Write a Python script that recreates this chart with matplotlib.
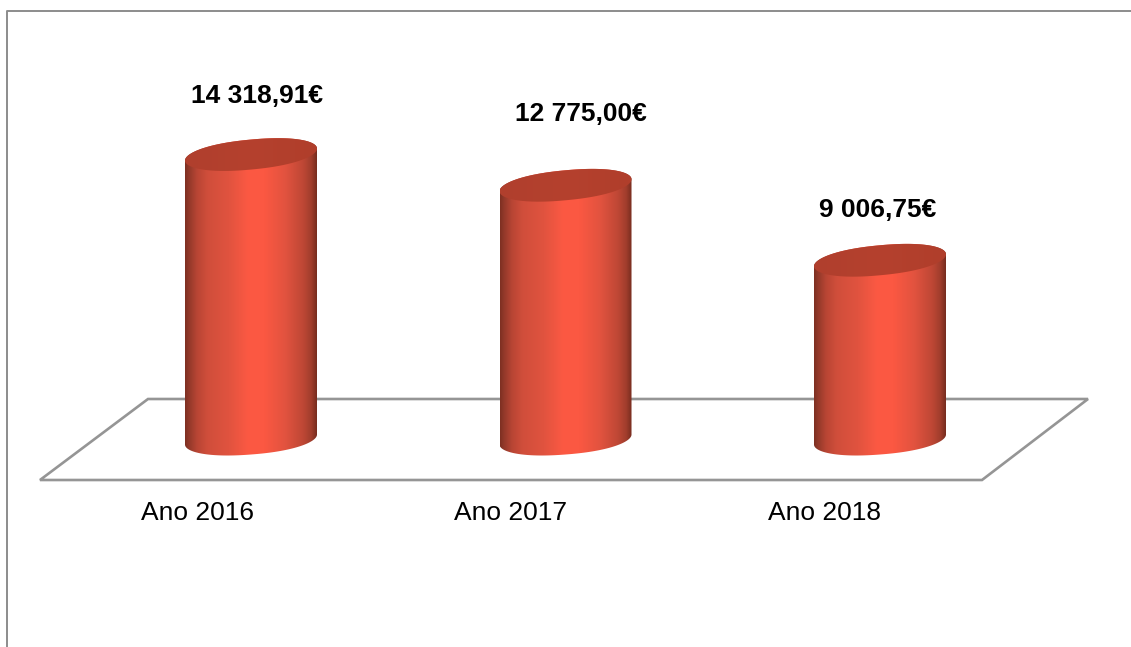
import numpy as np
import matplotlib
matplotlib.use("Agg")
import matplotlib.pyplot as plt
from matplotlib.path import Path
from matplotlib.patches import Polygon
from matplotlib.lines import Line2D
from matplotlib.transforms import IdentityTransform
from matplotlib.colors import LinearSegmentedColormap

categories = ["Ano 2016", "Ano 2017", "Ano 2018"]
values = [14318.91, 12775.00, 9006.75]
value_labels = ["14 318,91€", "12 775,00€", "9 006,75€"]

W, H = 1131, 647
plt.rcParams["font.family"] = ["Liberation Sans", "DejaVu Sans"]
fig = plt.figure(figsize=(W / 100, H / 100), dpi=100)
ax = fig.add_axes([0, 0, 1, 1])
ax.axis("off")

# scale: category spacing and value scale, laid out to the picture
X0, XSTEP = 251.0, 314.5
Y0, YSCALE = 439.5, 0.0199
XLIM = (-X0 / XSTEP, (W - X0) / XSTEP)
YLIM = (-(H - Y0) / YSCALE, Y0 / YSCALE)
ax.set_xlim(*XLIM)
ax.set_ylim(*YLIM)

pix = lambda x, y: (x, H - y)  # top-left pixel coordinates to display
idt = IdentityTransform()

# outer frame (left and top only)
fig.add_artist(Line2D([7, 7, W], [0, H - 10.5, H - 10.5], transform=idt, color="#8c8c8c", lw=1.4))

# floor
floor = [pix(40, 480), pix(982, 480), pix(1088, 399), pix(148, 399)]
ax.add_patch(Polygon(floor, closed=True, transform=idt, fc="white", ec="#959595", lw=1.9, zorder=1))

side = LinearSegmentedColormap.from_list("side", [
    (0.00, "#7e3022"), (0.03, "#93392a"), (0.09, "#b84534"), (0.17, "#d04e3b"), (0.33, "#e0533f"),
    (0.48, "#fc5943"), (0.60, "#fb5842"), (0.76, "#e2533f"), (0.90, "#bd4735"), (0.96, "#a03d2c"),
    (1.00, "#772d1f")])
lid = LinearSegmentedColormap.from_list("lid", ["#b03f2d", "#b5412e", "#b03e2b"])
grad = np.linspace(0, 1, 256).reshape(1, -1)

A = 66.0
TOP_TILT, TOP_B = 6.0, 15.0
BASE_TILT, BASE_B = 5.0, 15.0
t = np.linspace(0, 2 * np.pi, 241)
front = t[t <= np.pi]


def ring(cx, cy, tt, tilt, b):
    """Tilted, slightly blunt ellipse outline in display coordinates."""
    c = np.sign(np.cos(tt)) * np.abs(np.cos(tt)) ** 0.9
    return np.column_stack([cx + A * c, cy + tilt * c + b * np.sin(tt)])


for i, v in enumerate(values):
    cx, top = ax.transData.transform((i, v))
    _, base = ax.transData.transform((i, 0))
    verts = np.vstack([ring(cx, top, np.pi - front, TOP_TILT, TOP_B),
                       ring(cx, base, -front, BASE_TILT, BASE_B)])
    verts = np.vstack([verts, verts[0]])
    body = Path(verts, closed=True)
    x_l, x_r = i - A / XSTEP, i + A / XSTEP
    im = ax.imshow(grad, cmap=side, extent=[x_l, x_r, -30 / YSCALE, v + 30 / YSCALE],
                   aspect="auto", zorder=2, interpolation="bilinear")
    im.set_clip_path(body, idt)
    cap = Path(ring(cx, top, t, TOP_TILT, TOP_B), closed=True)
    im2 = ax.imshow(grad, cmap=lid, extent=[x_l, x_r, 0, v + 30 / YSCALE],
                    aspect="auto", zorder=3, interpolation="bilinear")
    im2.set_clip_path(cap, idt)

ax.set_xlim(*XLIM)
ax.set_ylim(*YLIM)

# text positions in pixels
cat_x = [197.5, 510.5, 824]
val_pos = [(257, 96), (581, 114), (878, 210)]
for c, x in zip(categories, cat_x):
    fig.text(x / W, 1 - 513 / H, c, ha="center", va="center", fontsize=19, color="black")
for s, (x, y) in zip(value_labels, val_pos):
    fig.text(x / W, 1 - y / H, s, ha="center", va="center", fontsize=19, fontweight="bold", color="black")

fig.savefig("out.png", dpi=100, facecolor="white")
